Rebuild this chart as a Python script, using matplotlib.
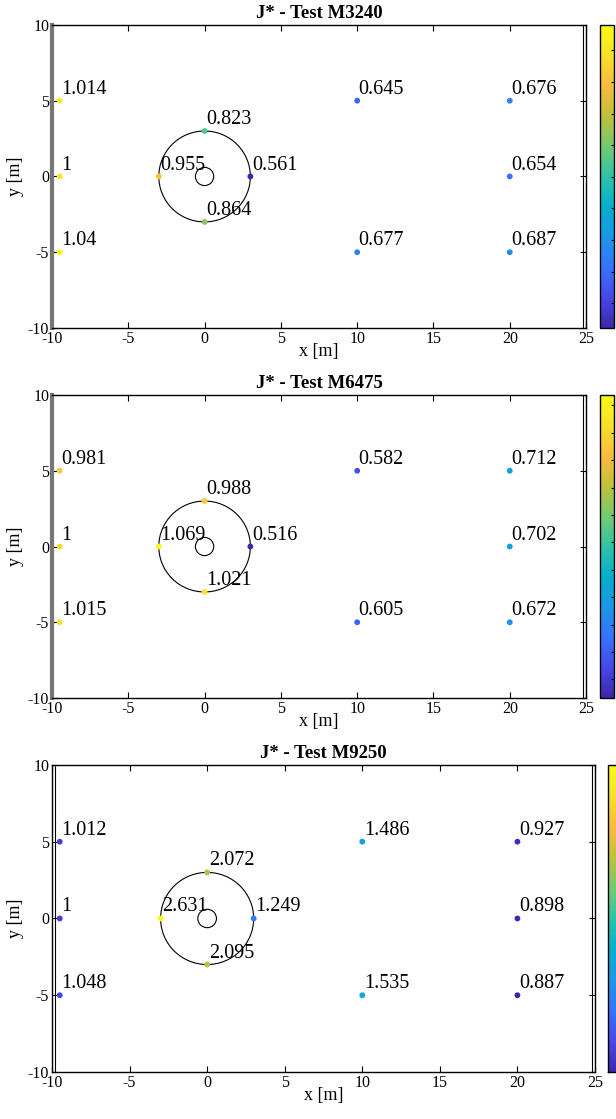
import matplotlib
matplotlib.use('Agg')
import matplotlib.pyplot as plt
import numpy as np
from matplotlib.colors import LinearSegmentedColormap, Normalize
from matplotlib.patches import Circle
from matplotlib.lines import Line2D
from matplotlib.ticker import MultipleLocator

plt.rcParams['font.family'] = ['Liberation Serif', 'DejaVu Serif']
plt.rcParams['axes.unicode_minus'] = False

# sensor positions (same for every test)
xs = [-9.5, -9.5, -9.5, -3, 0, 3, 0, 10, 10, 20, 20, 20]
ys = [5, 0, -5, 0, 3, 0, -3, 5, -5, 5, 0, -5]

tests = ['M3240', 'M6475', 'M9250']
j_m3240 = [1.014, 1, 1.04, 0.955, 0.823, 0.561, 0.864, 0.645, 0.677, 0.676, 0.654, 0.687]
j_m6475 = [0.981, 1, 1.015, 1.069, 0.988, 0.516, 1.021, 0.582, 0.605, 0.712, 0.702, 0.672]
j_m9250 = [1.012, 1, 1.048, 2.631, 2.072, 1.249, 2.095, 1.486, 1.535, 0.927, 0.898, 0.887]
values = [j_m3240, j_m6475, j_m9250]

# parula-like colormap
parula = LinearSegmentedColormap.from_list('parula', [
    (0.2422, 0.1504, 0.6603), (0.2758, 0.2839, 0.9135), (0.2112, 0.4510, 0.9960),
    (0.1085, 0.5942, 0.8986), (0.0207, 0.6847, 0.8025), (0.1836, 0.7631, 0.6587),
    (0.4526, 0.7935, 0.4389), (0.7467, 0.7553, 0.2329), (0.9754, 0.7314, 0.2413),
    (0.9676, 0.8771, 0.1734), (0.9769, 0.9839, 0.0805)])

fig = plt.figure(figsize=(6.16, 11.19), dpi=100)

# axes rectangles [left, bottom, width, height]
ax_pos = [[0.0844, 0.7069, 0.867, 0.2708],
          [0.0844, 0.3762, 0.867, 0.2708],
          [0.0844, 0.0420, 0.8815, 0.2744]]
cb_left = [0.974, 0.974, 0.987]
cb_step = [0.05, 0.05, 0.2]

def fmt(v):
    s = ('%.3f' % v).rstrip('0').rstrip('.')
    return s

for i in range(3):
    ax = fig.add_axes(ax_pos[i])
    vals = values[i]
    norm = Normalize(vmin=min(vals), vmax=max(vals))
    sc = ax.scatter(xs, ys, c=vals, cmap=parula, norm=norm, s=10, zorder=3)
    for x, y, v in zip(xs, ys, vals):
        ax.text(x + 0.1, y + 0.75, fmt(v), fontsize=14.5, va='center', ha='left', zorder=4)
    ax.add_patch(Circle((0, 0), 3, fill=False, color='black', lw=0.8))
    ax.add_patch(Circle((0, 0), 0.6, fill=False, color='black', lw=0.8))
    ax.set_xlim(-10, 25)
    ax.set_ylim(-10, 10)
    ax.set_xticks(np.arange(-10, 26, 5))
    ax.set_yticks(np.arange(-10, 11, 5))
    ax.tick_params(direction='in', top=True, right=True, length=4, labelsize=11.5, width=0.8, pad=2)
    ax.set_xlabel('x [m]', fontsize=13, labelpad=-3)
    ax.set_ylabel('y [m]', fontsize=13, labelpad=3)
    ax.set_title('J* - Test ' + tests[i], fontsize=13.5, fontweight='bold', pad=5)
    for sp in ax.spines.values():
        sp.set_linewidth(1.0)
    if i < 2:
        ax.spines['left'].set_linewidth(3)
        ax.spines['left'].set_color('#777777')
    else:
        ax.add_line(Line2D([0.006, 0.006], [0, 1], transform=ax.transAxes, color='black', lw=0.8, clip_on=False))
    ax.add_line(Line2D([0.994, 0.994], [0, 1], transform=ax.transAxes, color='black', lw=0.8, clip_on=False))

    # colorbar runs off the right edge; its labels are outside the picture
    cax = fig.add_axes([cb_left[i], ax_pos[i][1], 0.022, ax_pos[i][3]])
    cb = fig.colorbar(sc, cax=cax)
    cb.ax.yaxis.set_major_locator(MultipleLocator(cb_step[i]))
    cb.ax.tick_params(direction='in', length=2, labelright=False)
    cb.outline.set_linewidth(1.0)

fig.savefig('out.png', dpi=100)
